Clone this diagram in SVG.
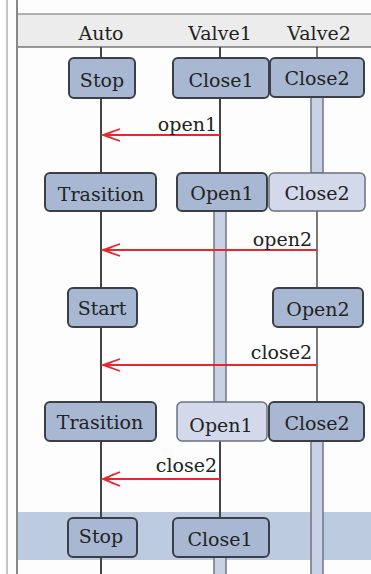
<svg xmlns="http://www.w3.org/2000/svg" width="371" height="574" viewBox="0 0 371 574">
<style>
.t{font-family:"DejaVu Serif","Liberation Serif",serif;font-size:19px;fill:#222;}
.n{fill:#a9b8d2;stroke:#3a3f48;stroke-width:2;}
.nl{fill:#d3d9ea;stroke:#6a7080;stroke-width:1.5;}
.ll{stroke:#444;stroke-width:2;fill:none;}
.lt{stroke:#222;stroke-width:1.2;fill:none;}
.bar{fill:#c9d1e6;stroke:#6d7485;stroke-width:1.5;}
.msg{stroke:#e8262b;stroke-width:2;fill:none;}
.ah{stroke:#e8262b;stroke-width:1.8;fill:none;}
</style>
<rect x="0" y="0" width="371" height="574" fill="#fdfdfd"/>
<rect x="17" y="512" width="354" height="48" fill="#bccbe0"/>
<rect x="17" y="14" width="354" height="33" fill="#ececec"/>
<line x1="17" y1="14" x2="371" y2="14" stroke="#999" stroke-width="1.5"/>
<line x1="17" y1="47" x2="371" y2="47" stroke="#777" stroke-width="1.5"/>
<line x1="7" y1="0" x2="7" y2="574" stroke="#c4c4c4" stroke-width="2"/>
<line x1="17" y1="0" x2="17" y2="574" stroke="#888" stroke-width="2"/>
<g id="headers">
<text class="t" x="101" y="40" text-anchor="middle">Auto</text>
<text class="t" x="220" y="40" text-anchor="middle">Valve1</text>
<text class="t" x="319" y="40" text-anchor="middle">Valve2</text>
</g>
<g id="lifelines">
<line class="ll" x1="101" y1="47" x2="101" y2="574"/>
<line class="ll" x1="220" y1="47" x2="220" y2="60"/>
<line class="ll" x1="220" y1="96" x2="220" y2="175"/>
<line class="ll" x1="220" y1="441" x2="220" y2="520"/>
<line class="lt" x1="317" y1="47" x2="317" y2="60"/>
<line class="lt" x1="317" y1="211" x2="317" y2="290"/>
<line class="lt" x1="317" y1="327" x2="317" y2="404"/>
<rect class="bar" x="311" y="97" width="12" height="76"/>
<rect class="bar" x="214" y="211" width="12" height="191"/>
<rect class="bar" x="311" y="441" width="12" height="140"/>
<rect class="bar" x="214" y="557" width="12" height="20"/>
</g>
<g id="connectors">
<line class="msg" x1="220" y1="135" x2="103" y2="135"/>
<path class="ah" d="M120,129 L103,135 L120,141 M114,131 L105,135 L114,139"/>
<text class="t" x="217" y="131" text-anchor="end">open1</text>
<line class="msg" x1="317" y1="250" x2="103" y2="250"/>
<path class="ah" d="M120,244 L103,250 L120,256 M114,246 L105,250 L114,254"/>
<text class="t" x="312" y="246" text-anchor="end">open2</text>
<line class="msg" x1="317" y1="365" x2="103" y2="365"/>
<path class="ah" d="M120,359 L103,365 L120,371 M114,361 L105,365 L114,369"/>
<text class="t" x="312" y="359" text-anchor="end">close2</text>
<line class="msg" x1="220" y1="479" x2="103" y2="479" stroke-width="4" stroke="#ee4a50"/>
<path class="ah" d="M120,472 L103,479 L120,486 M114,474 L105,479 L114,484"/>
<text class="t" x="217" y="472" text-anchor="end">close2</text>
</g>
<g id="n1"><rect class="n" x="69" y="58" width="66" height="40" rx="5"/><text class="t" x="102" y="87" text-anchor="middle">Stop</text></g>
<g id="n2"><rect class="n" x="173" y="58" width="96" height="40" rx="5"/><text class="t" x="221" y="87" text-anchor="middle">Close1</text></g>
<g id="n3"><rect class="n" x="270" y="58" width="94" height="39" rx="5"/><text class="t" x="317" y="85" text-anchor="middle">Close2</text></g>
<g id="n4"><rect class="n" x="45" y="173" width="111" height="38" rx="5"/><text class="t" x="101" y="201" text-anchor="middle">Trasition</text></g>
<g id="n5"><rect class="n" x="177" y="173" width="90" height="38" rx="5"/><text class="t" x="222" y="200" text-anchor="middle">Open1</text></g>
<g id="n6"><rect class="nl" x="269" y="173" width="96" height="38" rx="5"/><text class="t" x="317" y="200" text-anchor="middle">Close2</text></g>
<g id="n7"><rect class="n" x="68" y="288" width="69" height="39" rx="5"/><text class="t" x="102" y="315" text-anchor="middle">Start</text></g>
<g id="n8"><rect class="n" x="273" y="288" width="90" height="39" rx="5"/><text class="t" x="318" y="316" text-anchor="middle">Open2</text></g>
<g id="n9"><rect class="n" x="45" y="402" width="111" height="39" rx="5"/><text class="t" x="100" y="429" text-anchor="middle">Trasition</text></g>
<g id="n10"><rect class="nl" x="177" y="402" width="90" height="39" rx="5"/><text class="t" x="221" y="432" text-anchor="middle">Open1</text></g>
<g id="n11"><rect class="n" x="269" y="402" width="95" height="39" rx="5"/><text class="t" x="317" y="430" text-anchor="middle">Close2</text></g>
<g id="n12"><rect class="n" x="68" y="518" width="69" height="39" rx="5"/><text class="t" x="101" y="543" text-anchor="middle">Stop</text></g>
<g id="n13"><rect class="n" x="173" y="518" width="96" height="39" rx="5"/><text class="t" x="220" y="546" text-anchor="middle">Close1</text></g>
</svg>
